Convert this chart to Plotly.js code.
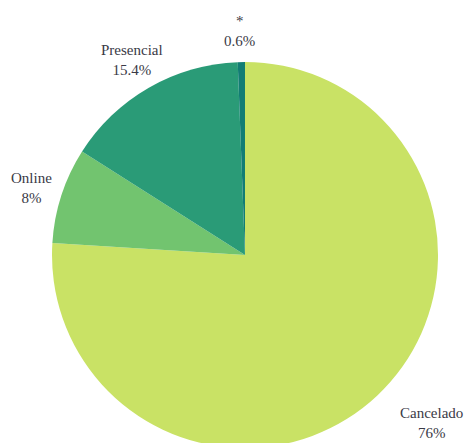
<!DOCTYPE html>
<html>
<head>
<meta charset="utf-8">
<script src="https://cdn.plot.ly/plotly-3.0.1.min.js"></script>
<style>
  body { margin: 0; background: #fff; overflow: hidden; }
  #chart { width: 465px; height: 448px; }
</style>
</head>
<body>
<div id="chart"></div>
<script>
// modalidade (ordem horaria a partir do topo)
var labels = ["Cancelado", "Online", "Presencial", "*"];
var values = [76, 8, 15.4, 0.6];
var colors = ["#c9e265", "#72c46f", "#2a9b77", "#127d74"];

// onde vai cada rotulo (coords do paper)
var labelX = [0.984, -0.054, 0.207, 0.487];
var labelY = [0.065, 0.674, 1.005, 1.080];

var total = values.reduce(function(a, b){ return a + b; }, 0);

var annotations = [];
for (var i = 0; i < labels.length; i++) {
    var pct = Math.round(values[i] / total * 1000) / 10;
    annotations.push({
        xref: "paper", yref: "paper",
        x: labelX[i], y: labelY[i],
        xanchor: "center", yanchor: "middle",
        showarrow: false,
        align: "center",
        text: labels[i] + "<br>" + pct + "%",
        font: { family: "Liberation Serif, Times New Roman, serif", size: 15, color: "#3a3a46" }
    });
}

var data = [{
    type: "pie",
    labels: labels,
    values: values,
    sort: false,
    direction: "clockwise",
    rotation: 0,
    marker: { colors: colors, line: { width: 0 } },
    textinfo: "none",
    hoverinfo: "none",
    showlegend: false
}];

var layout = {
    width: 465,
    height: 448,
    margin: { l: 52, r: 27, t: 62, b: 0 },
    paper_bgcolor: "#ffffff",
    showlegend: false,
    annotations: annotations
};

Plotly.newPlot("chart", data, layout, { staticPlot: true });
</script>
</body>
</html>
